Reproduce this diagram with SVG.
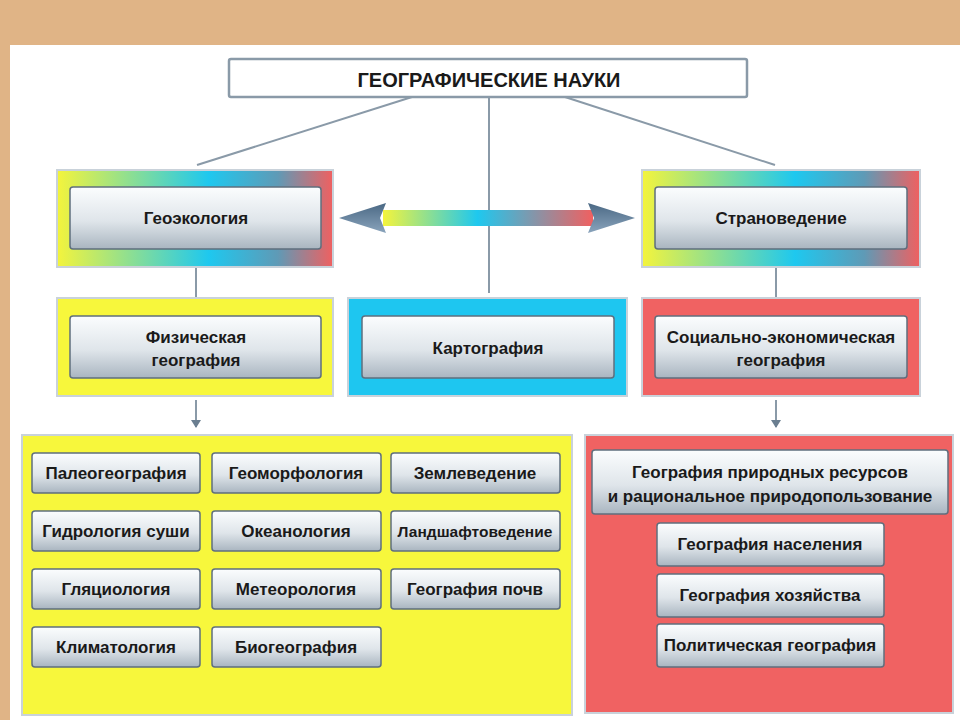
<svg xmlns="http://www.w3.org/2000/svg" width="960" height="720" viewBox="0 0 960 720">
<defs>
<linearGradient id="btn" x1="0" y1="0" x2="0" y2="1">
<stop offset="0" stop-color="#fbfdfe"/><stop offset="0.55" stop-color="#dfe5ea"/><stop offset="1" stop-color="#a9b5c0"/>
</linearGradient>
<linearGradient id="rain" x1="0" y1="0" x2="1" y2="0">
<stop offset="0" stop-color="#f4f43c"/><stop offset="0.55" stop-color="#1ec8ef"/><stop offset="0.8" stop-color="#5f9ab6"/><stop offset="1" stop-color="#f06060"/>
</linearGradient>
<linearGradient id="bar" x1="0" y1="0" x2="1" y2="0">
<stop offset="0" stop-color="#f4f43c"/><stop offset="0.45" stop-color="#1ec8ef"/><stop offset="1" stop-color="#f06060"/>
</linearGradient>
<linearGradient id="head" x1="0" y1="0" x2="0" y2="1">
<stop offset="0" stop-color="#4a6884"/><stop offset="1" stop-color="#8aa4bc"/>
</linearGradient>
<marker id="ah" markerWidth="8" markerHeight="10" refX="7" refY="5" orient="auto" markerUnits="userSpaceOnUse">
<path d="M0,0 L8,5 L0,10 Z" fill="#6a7e90"/>
</marker>
<style>
.btn{fill:url(#btn);stroke:#5f6f7e;stroke-width:1.5}
.t{font-family:"Liberation Sans",Arial,sans-serif;font-weight:bold;font-size:17px;fill:#1a1a1a;text-anchor:middle}
.pan{stroke:#c9d2da;stroke-width:2}
.ln{stroke:#8a9aa8;stroke-width:2;fill:none}
</style>
</defs>
<rect x="0" y="0" width="960" height="720" fill="#e0b486"/>
<rect x="10" y="45" width="950" height="675" fill="#ffffff"/>

<g id="connectors">
<line class="ln" x1="412" y1="97" x2="197" y2="165"/>
<line class="ln" x1="489" y1="97" x2="489" y2="293"/>
<line class="ln" x1="565" y1="97" x2="775" y2="165"/>
<line class="ln" x1="196" y1="267" x2="196" y2="297"/>
<line class="ln" x1="776" y1="267" x2="776" y2="297"/>
<line class="ln" x1="196" y1="400" x2="196" y2="427" marker-end="url(#ah)"/>
<line class="ln" x1="776" y1="400" x2="776" y2="427" marker-end="url(#ah)"/>
<g id="double-arrow">
<rect x="383" y="210" width="210" height="16" fill="url(#bar)"/>
<path d="M339,218 L386,203 L380,218 L386,233 Z" fill="url(#head)"/>
<path d="M635,218 L588,203 L594,218 L588,233 Z" fill="url(#head)"/>
</g>
</g>

<g id="title">
<rect x="229" y="59" width="518" height="38" fill="#fff" stroke="#8a9aa8" stroke-width="2.5" rx="2"/>
<text class="t" x="489" y="87" font-size="20" style="font-size:20px">ГЕОГРАФИЧЕСКИЕ НАУКИ</text>
</g>

<g id="geoecology">
<rect x="57" y="170" width="276" height="97" fill="url(#rain)" class="pan"/>
<rect x="70" y="187" width="251" height="62" class="btn" rx="3"/>
<text class="t" x="196" y="224">Геоэкология</text>
</g>
<g id="stranovedenie">
<rect x="642" y="170" width="278" height="97" fill="url(#rain)" class="pan"/>
<rect x="655" y="187" width="252" height="62" class="btn" rx="3"/>
<text class="t" x="781" y="224">Страноведение</text>
</g>

<g id="physical">
<rect x="57" y="298" width="276" height="98" fill="#f7f73c" class="pan"/>
<rect x="70" y="316" width="251" height="62" class="btn" rx="3"/>
<text class="t" x="196" y="343">Физическая</text>
<text class="t" x="196" y="366">география</text>
</g>
<g id="cartography">
<rect x="348" y="298" width="279" height="98" fill="#1ec6f0" class="pan"/>
<rect x="362" y="316" width="252" height="62" class="btn" rx="3"/>
<text class="t" x="488" y="354">Картография</text>
</g>
<g id="socioeconomic">
<rect x="642" y="298" width="278" height="98" fill="#f06262" class="pan"/>
<rect x="655" y="316" width="252" height="62" class="btn" rx="3"/>
<text class="t" x="781" y="343">Социально-экономическая</text>
<text class="t" x="781" y="366">география</text>
</g>

<g id="physical-branches">
<rect x="22" y="435" width="550" height="280" fill="#f7f73c" class="pan"/>
<g id="paleo"><rect x="32" y="453" width="168" height="40" class="btn" rx="3"/><text class="t" x="116" y="479">Палеогеография</text></g>
<g id="geomorph"><rect x="212" y="453" width="169" height="40" class="btn" rx="3"/><text class="t" x="296" y="479">Геоморфология</text></g>
<g id="zemle"><rect x="391" y="453" width="169" height="40" class="btn" rx="3"/><text class="t" x="475" y="479">Землеведение</text></g>
<g id="hydro"><rect x="32" y="511" width="168" height="40" class="btn" rx="3"/><text class="t" x="116" y="537">Гидрология суши</text></g>
<g id="ocean"><rect x="212" y="511" width="169" height="40" class="btn" rx="3"/><text class="t" x="296" y="537">Океанология</text></g>
<g id="landscape"><rect x="391" y="511" width="169" height="40" class="btn" rx="3"/><text class="t" x="475" y="537" style="font-size:15.5px">Ландшафтоведение</text></g>
<g id="glacio"><rect x="32" y="569" width="168" height="40" class="btn" rx="3"/><text class="t" x="116" y="595">Гляциология</text></g>
<g id="meteo"><rect x="212" y="569" width="169" height="40" class="btn" rx="3"/><text class="t" x="296" y="595">Метеорология</text></g>
<g id="soil"><rect x="391" y="569" width="169" height="40" class="btn" rx="3"/><text class="t" x="475" y="595">География почв</text></g>
<g id="climate"><rect x="32" y="627" width="168" height="40" class="btn" rx="3"/><text class="t" x="116" y="653">Климатология</text></g>
<g id="biogeo"><rect x="212" y="627" width="169" height="40" class="btn" rx="3"/><text class="t" x="296" y="653">Биогеография</text></g>
</g>

<g id="socio-branches">
<rect x="585" y="435" width="368" height="278" fill="#f06262" class="pan"/>
<g id="resources"><rect x="592" y="450" width="356" height="64" class="btn" rx="3"/>
<text class="t" x="770" y="478">География природных ресурсов</text>
<text class="t" x="770" y="502">и рациональное природопользование</text></g>
<g id="population"><rect x="657" y="523" width="227" height="43" class="btn" rx="3"/><text class="t" x="770" y="550">География населения</text></g>
<g id="economy"><rect x="657" y="574" width="227" height="43" class="btn" rx="3"/><text class="t" x="770" y="601">География хозяйства</text></g>
<g id="political"><rect x="657" y="624" width="227" height="43" class="btn" rx="3"/><text class="t" x="770" y="651">Политическая география</text></g>
</g>
</svg>
